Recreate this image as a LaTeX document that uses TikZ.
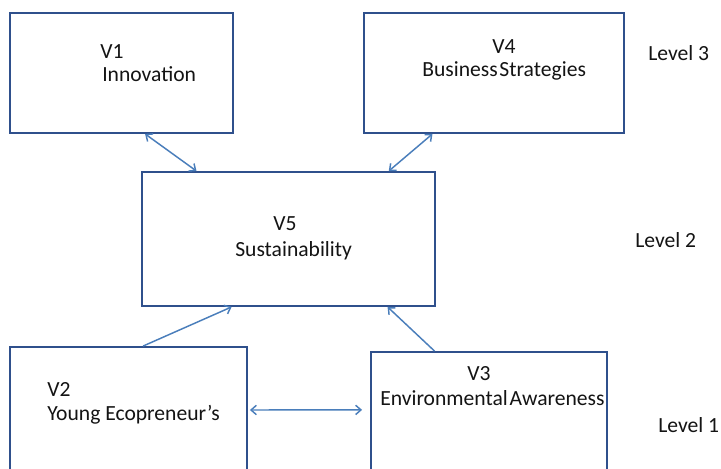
\documentclass[tikz,border=0pt]{standalone}
\usepackage{fontspec}
\setmainfont{Carlito}
\usetikzlibrary{arrows.meta,calc,fit}
\definecolor{boxline}{RGB}{47,80,140}
\definecolor{arrowline}{RGB}{74,126,187}
\definecolor{txt}{RGB}{20,20,20}
\tikzset{
  box/.style={draw=boxline,line width=1.4pt,inner sep=0pt,rectangle},
  lbl/.style={anchor=base west,inner sep=0pt,text=txt,font=\fontsize{16.2}{19}\selectfont},
  conn/.style={draw=arrowline,line width=1.1pt,arrows={Straight Barb[length=4pt,width=7pt]-Straight Barb[length=4pt,width=7pt]}},
  oneway/.style={draw=arrowline,line width=1.1pt,arrows={-Straight Barb[length=4pt,width=7pt]}}
}
\begin{document}
\begin{tikzpicture}[x=0.75pt,y=-0.75pt]
\useasboundingbox (0,0) rectangle (721,468);
\clip (0,0) rectangle (721,468);
\fill[white] (0,0) rectangle (721,468);
% boxes
\node[box,fit={(10,13) (233,133)}] (v1) {};
\node[box,fit={(364,13) (624,133)}] (v4) {};
\node[box,fit={(142,172) (435,306)}] (v5) {};
\node[box,fit={(10,347) (247,480)}] (v2) {};
\node[box,fit={(371,352) (607,480)}] (v3) {};
% texts
\node[lbl] (t1a) at (100,58) {V1};
\node[lbl] (t1b) at (102,81.5) {Innovation};
\node[lbl] (t4a) at (492,53) {V4};
\node[lbl] (t4b) at (422,76.5) {\spaceskip=0.08em\relax Business Strategies};
\node[lbl] (t5a) at (273,230.5) {V5};
\node[lbl] (t5b) at (235,256) {Sustainability};
\node[lbl] (t2a) at (47,396) {V2};
\node[lbl] (t2b) at (47,420) {Young Ecopreneur’s};
\node[lbl] (t3a) at (467,380) {V3};
\node[lbl] (t3b) at (380,405) {\spaceskip=0.08em\relax Environmental Awareness};
\node[lbl] (l3) at (648,60) {Level 3};
\node[lbl] (l2) at (635,247) {Level 2};
\node[lbl] (l1) at (658,432) {Level 1};
% connectors
\draw[conn] ($(v1.south west)!0.605!(v1.south east)$) -- ($(v5.north west)!0.188!(v5.north east)$);
\draw[conn] ($(v4.south west)!0.265!(v4.south east)$) -- ($(v5.north west)!0.84!(v5.north east)$);
\draw[oneway] ($(v2.north west)!0.561!(v2.north east)$) -- ($(v5.south west)!0.307!(v5.south east)$);
\draw[oneway] ($(v3.north west)!0.271!(v3.north east)$) -- ($(v5.south west)!0.836!(v5.south east)$);
\draw[conn] ($(v2.north east)!0.474!(v2.south east)+(2,0)$) -- ($(v3.north west)!0.453!(v3.south west)+(-8,0)$);
\end{tikzpicture}
\end{document}
